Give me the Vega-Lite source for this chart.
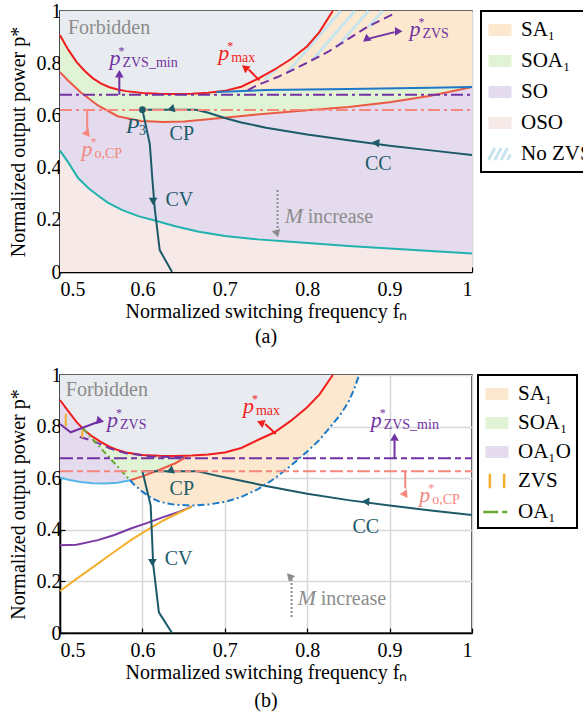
{
"$schema": "https://vega.github.io/schema/vega-lite/v6.json",
"padding": {"left": 7, "top": 0, "right": 0, "bottom": 0},
"config": {
  "view": {"stroke": "black", "strokeWidth": 1.5},
  "font": "Liberation Serif",
  "axis": {"labelFont": "Liberation Serif", "labelFontSize": 20, "labelColor": "black", "titleFont": "Liberation Serif", "titleFontSize": 20, "titleFontWeight": "normal", "titleColor": "black", "domainColor": "black", "domainWidth": 1.5, "tickColor": "black", "tickSize": -5, "tickWidth": 1.2, "gridColor": "#d6d8da", "gridWidth": 1.5, "zindex": 1, "format": "~g"},
  "axisX": {"labelPadding": 12, "titlePadding": 2},
  "axisY": {"labelPadding": 4, "titlePadding": 8},
  "legend": {"labelFont": "Liberation Serif", "labelFontSize": 21, "labelColor": "black", "strokeColor": "black", "strokeWidth": 2, "fillColor": "white", "padding": 6, "labelOffset": 8, "symbolSize": 529, "symbolType": "M-1,-0.52H1V0.52H-1Z", "orient": "right", "offset": 5},
  "title": {"font": "Liberation Serif", "fontSize": 20, "fontWeight": "normal", "color": "black"}
},
"datasets": {
  "aA": [
    {"r": "SA₁", "f": 0.5, "p": 1, "p2": 0}, {"r": "SA₁", "f": 1, "p": 1, "p2": 0},
    {"r": "F", "f": 0.5, "p": 0.907, "p2": 1}, {"r": "F", "f": 0.51, "p": 0.852, "p2": 1}, {"r": "F", "f": 0.52, "p": 0.805, "p2": 1}, {"r": "F", "f": 0.53, "p": 0.77, "p2": 1}, {"r": "F", "f": 0.54, "p": 0.742, "p2": 1}, {"r": "F", "f": 0.55, "p": 0.722, "p2": 1}, {"r": "F", "f": 0.56, "p": 0.708, "p2": 1}, {"r": "F", "f": 0.57, "p": 0.699, "p2": 1}, {"r": "F", "f": 0.58, "p": 0.693, "p2": 1}, {"r": "F", "f": 0.6, "p": 0.686, "p2": 1}, {"r": "F", "f": 0.62, "p": 0.683, "p2": 1}, {"r": "F", "f": 0.64, "p": 0.682, "p2": 1}, {"r": "F", "f": 0.66, "p": 0.683, "p2": 1}, {"r": "F", "f": 0.68, "p": 0.687, "p2": 1}, {"r": "F", "f": 0.7, "p": 0.694, "p2": 1}, {"r": "F", "f": 0.72, "p": 0.71, "p2": 1}, {"r": "F", "f": 0.74, "p": 0.74, "p2": 1}, {"r": "F", "f": 0.76, "p": 0.775, "p2": 1}, {"r": "F", "f": 0.78, "p": 0.815, "p2": 1}, {"r": "F", "f": 0.8, "p": 0.865, "p2": 1}, {"r": "F", "f": 0.815, "p": 0.92, "p2": 1}, {"r": "F", "f": 0.831, "p": 1, "p2": 1},
    {"r": "SOA₁", "f": 0.5, "p": 0.907, "p2": 0}, {"r": "SOA₁", "f": 0.51, "p": 0.852, "p2": 0}, {"r": "SOA₁", "f": 0.52, "p": 0.805, "p2": 0}, {"r": "SOA₁", "f": 0.53, "p": 0.77, "p2": 0}, {"r": "SOA₁", "f": 0.54, "p": 0.742, "p2": 0}, {"r": "SOA₁", "f": 0.55, "p": 0.722, "p2": 0}, {"r": "SOA₁", "f": 0.56, "p": 0.708, "p2": 0}, {"r": "SOA₁", "f": 0.57, "p": 0.699, "p2": 0}, {"r": "SOA₁", "f": 0.58, "p": 0.693, "p2": 0}, {"r": "SOA₁", "f": 0.6, "p": 0.686, "p2": 0}, {"r": "SOA₁", "f": 0.62, "p": 0.683, "p2": 0}, {"r": "SOA₁", "f": 0.64, "p": 0.682, "p2": 0}, {"r": "SOA₁", "f": 0.66, "p": 0.683, "p2": 0}, {"r": "SOA₁", "f": 0.68, "p": 0.687, "p2": 0}, {"r": "SOA₁", "f": 0.69, "p": 0.69, "p2": 0}, {"r": "SOA₁", "f": 0.75, "p": 0.697, "p2": 0}, {"r": "SOA₁", "f": 0.85, "p": 0.701, "p2": 0}, {"r": "SOA₁", "f": 0.95, "p": 0.706, "p2": 0}, {"r": "SOA₁", "f": 1, "p": 0.709, "p2": 0},
    {"r": "SO", "f": 0.5, "p": 0.766, "p2": 0}, {"r": "SO", "f": 0.51, "p": 0.733, "p2": 0}, {"r": "SO", "f": 0.525, "p": 0.689, "p2": 0}, {"r": "SO", "f": 0.546, "p": 0.638, "p2": 0}, {"r": "SO", "f": 0.57, "p": 0.597, "p2": 0}, {"r": "SO", "f": 0.598, "p": 0.579, "p2": 0}, {"r": "SO", "f": 0.626, "p": 0.575, "p2": 0}, {"r": "SO", "f": 0.651, "p": 0.577, "p2": 0}, {"r": "SO", "f": 0.683, "p": 0.586, "p2": 0}, {"r": "SO", "f": 0.727, "p": 0.6, "p2": 0}, {"r": "SO", "f": 0.8, "p": 0.62, "p2": 0}, {"r": "SO", "f": 0.85, "p": 0.632, "p2": 0}, {"r": "SO", "f": 0.9, "p": 0.65, "p2": 0}, {"r": "SO", "f": 0.95, "p": 0.675, "p2": 0}, {"r": "SO", "f": 1, "p": 0.709, "p2": 0},
    {"r": "OSO", "f": 0.5, "p": 0.465, "p2": 0}, {"r": "OSO", "f": 0.51, "p": 0.42, "p2": 0}, {"r": "OSO", "f": 0.522, "p": 0.36, "p2": 0}, {"r": "OSO", "f": 0.535, "p": 0.32, "p2": 0}, {"r": "OSO", "f": 0.546, "p": 0.293, "p2": 0}, {"r": "OSO", "f": 0.558, "p": 0.266, "p2": 0}, {"r": "OSO", "f": 0.575, "p": 0.238, "p2": 0}, {"r": "OSO", "f": 0.595, "p": 0.214, "p2": 0}, {"r": "OSO", "f": 0.615, "p": 0.197, "p2": 0}, {"r": "OSO", "f": 0.64, "p": 0.175, "p2": 0}, {"r": "OSO", "f": 0.667, "p": 0.155, "p2": 0}, {"r": "OSO", "f": 0.7, "p": 0.138, "p2": 0}, {"r": "OSO", "f": 0.74, "p": 0.125, "p2": 0}, {"r": "OSO", "f": 0.78, "p": 0.116, "p2": 0}, {"r": "OSO", "f": 0.85, "p": 0.1, "p2": 0}, {"r": "OSO", "f": 0.9, "p": 0.09, "p2": 0}, {"r": "OSO", "f": 0.95, "p": 0.08, "p2": 0}, {"r": "OSO", "f": 1, "p": 0.071, "p2": 0}
  ],
  "aL": [
    {"c": "max", "k": "max", "f": 0.5, "p": 0.907}, {"c": "max", "k": "max", "f": 0.51, "p": 0.852}, {"c": "max", "k": "max", "f": 0.52, "p": 0.805}, {"c": "max", "k": "max", "f": 0.53, "p": 0.77}, {"c": "max", "k": "max", "f": 0.54, "p": 0.742}, {"c": "max", "k": "max", "f": 0.55, "p": 0.722}, {"c": "max", "k": "max", "f": 0.56, "p": 0.708}, {"c": "max", "k": "max", "f": 0.57, "p": 0.699}, {"c": "max", "k": "max", "f": 0.58, "p": 0.693}, {"c": "max", "k": "max", "f": 0.6, "p": 0.686}, {"c": "max", "k": "max", "f": 0.62, "p": 0.683}, {"c": "max", "k": "max", "f": 0.64, "p": 0.682}, {"c": "max", "k": "max", "f": 0.66, "p": 0.683}, {"c": "max", "k": "max", "f": 0.68, "p": 0.687}, {"c": "max", "k": "max", "f": 0.7, "p": 0.694}, {"c": "max", "k": "max", "f": 0.72, "p": 0.71}, {"c": "max", "k": "max", "f": 0.74, "p": 0.74}, {"c": "max", "k": "max", "f": 0.76, "p": 0.775}, {"c": "max", "k": "max", "f": 0.78, "p": 0.815}, {"c": "max", "k": "max", "f": 0.8, "p": 0.865}, {"c": "max", "k": "max", "f": 0.815, "p": 0.92}, {"c": "max", "k": "max", "f": 0.831, "p": 1},
    {"c": "lred", "k": "lred", "f": 0.5, "p": 0.766}, {"c": "lred", "k": "lred", "f": 0.51, "p": 0.733}, {"c": "lred", "k": "lred", "f": 0.525, "p": 0.689}, {"c": "lred", "k": "lred", "f": 0.546, "p": 0.638}, {"c": "lred", "k": "lred", "f": 0.57, "p": 0.597}, {"c": "lred", "k": "lred", "f": 0.598, "p": 0.579}, {"c": "lred", "k": "lred", "f": 0.626, "p": 0.575}, {"c": "lred", "k": "lred", "f": 0.651, "p": 0.577}, {"c": "lred", "k": "lred", "f": 0.683, "p": 0.586}, {"c": "lred", "k": "lred", "f": 0.727, "p": 0.6}, {"c": "lred", "k": "lred", "f": 0.8, "p": 0.62}, {"c": "lred", "k": "lred", "f": 0.85, "p": 0.632}, {"c": "lred", "k": "lred", "f": 0.9, "p": 0.65}, {"c": "lred", "k": "lred", "f": 0.95, "p": 0.675}, {"c": "lred", "k": "lred", "f": 1, "p": 0.709},
    {"c": "teal", "k": "teal", "f": 0.5, "p": 0.465}, {"c": "teal", "k": "teal", "f": 0.51, "p": 0.42}, {"c": "teal", "k": "teal", "f": 0.522, "p": 0.36}, {"c": "teal", "k": "teal", "f": 0.535, "p": 0.32}, {"c": "teal", "k": "teal", "f": 0.546, "p": 0.293}, {"c": "teal", "k": "teal", "f": 0.558, "p": 0.266}, {"c": "teal", "k": "teal", "f": 0.575, "p": 0.238}, {"c": "teal", "k": "teal", "f": 0.595, "p": 0.214}, {"c": "teal", "k": "teal", "f": 0.615, "p": 0.197}, {"c": "teal", "k": "teal", "f": 0.64, "p": 0.175}, {"c": "teal", "k": "teal", "f": 0.667, "p": 0.155}, {"c": "teal", "k": "teal", "f": 0.7, "p": 0.138}, {"c": "teal", "k": "teal", "f": 0.74, "p": 0.125}, {"c": "teal", "k": "teal", "f": 0.78, "p": 0.116}, {"c": "teal", "k": "teal", "f": 0.85, "p": 0.1}, {"c": "teal", "k": "teal", "f": 0.9, "p": 0.09}, {"c": "teal", "k": "teal", "f": 0.95, "p": 0.08}, {"c": "teal", "k": "teal", "f": 1, "p": 0.071},
    {"c": "blue", "k": "blue", "f": 0.69, "p": 0.69}, {"c": "blue", "k": "blue", "f": 0.75, "p": 0.697}, {"c": "blue", "k": "blue", "f": 0.85, "p": 0.701}, {"c": "blue", "k": "blue", "f": 0.95, "p": 0.706}, {"c": "blue", "k": "blue", "f": 1, "p": 0.709},
    {"c": "zvs", "k": "zvs", "f": 0.728, "p": 0.697}, {"c": "zvs", "k": "zvs", "f": 0.74, "p": 0.7165}, {"c": "zvs", "k": "zvs", "f": 0.764, "p": 0.747}, {"c": "zvs", "k": "zvs", "f": 0.785, "p": 0.778}, {"c": "zvs", "k": "zvs", "f": 0.825, "p": 0.843}, {"c": "zvs", "k": "zvs", "f": 0.873, "p": 0.939}, {"c": "zvs", "k": "zvs", "f": 0.907, "p": 0.992},
    {"c": "CC", "k": "traj", "f": 0.665, "p": 0.622}, {"c": "CC", "k": "traj", "f": 0.68, "p": 0.61}, {"c": "CC", "k": "traj", "f": 0.7, "p": 0.59}, {"c": "CC", "k": "traj", "f": 0.72, "p": 0.573}, {"c": "CC", "k": "traj", "f": 0.75, "p": 0.553}, {"c": "CC", "k": "traj", "f": 0.8, "p": 0.527}, {"c": "CC", "k": "traj", "f": 0.85, "p": 0.505}, {"c": "CC", "k": "traj", "f": 0.9, "p": 0.484}, {"c": "CC", "k": "traj", "f": 0.95, "p": 0.466}, {"c": "CC", "k": "traj", "f": 1, "p": 0.448},
    {"c": "CP", "k": "traj", "f": 0.6, "p": 0.622}, {"c": "CP", "k": "traj", "f": 0.665, "p": 0.622},
    {"c": "CV", "k": "traj", "f": 0.6, "p": 0.622}, {"c": "CV", "k": "traj", "f": 0.609, "p": 0.49}, {"c": "CV", "k": "traj", "f": 0.612, "p": 0.36}, {"c": "CV", "k": "traj", "f": 0.615, "p": 0.243}, {"c": "CV", "k": "traj", "f": 0.621, "p": 0.084}, {"c": "CV", "k": "traj", "f": 0.636, "p": 0}
  ],
  "aR": [
    {"c": "hz_min", "k": "zvs", "f": 0.5, "p": 0.679, "f2": 1, "p2": 0.679},
    {"c": "hz_ocp", "k": "ocp", "f": 0.5, "p": 0.621, "f2": 1, "p2": 0.621},
    {"c": "ar_min", "k": "zvs", "f": 0.572, "p": 0.679, "f2": 0.572, "p2": 0.755},
    {"c": "ar_ocp", "k": "ocp", "f": 0.533, "p": 0.621, "f2": 0.533, "p2": 0.545},
    {"c": "ar_max", "k": "max", "f": 0.742, "p": 0.734, "f2": 0.729, "p2": 0.776},
    {"c": "ar_zvs", "k": "zvs", "f": 0.876, "p": 0.895, "f2": 0.906, "p2": 0.919},
    {"c": "ar_m", "k": "gray", "f": 0.764, "p": 0.314, "f2": 0.764, "p2": 0.16},
    {"c": "st0", "k": "hatch", "f": 0.7485, "p": 0.738, "f2": 0.763, "p2": 0.779},
    {"c": "st1", "k": "hatch", "f": 0.7764, "p": 0.766, "f2": 0.8406, "p2": 1},
    {"c": "st2", "k": "hatch", "f": 0.8067, "p": 0.813, "f2": 0.8576, "p2": 1},
    {"c": "st3", "k": "hatch", "f": 0.8364, "p": 0.862, "f2": 0.8745, "p2": 1},
    {"c": "st4", "k": "hatch", "f": 0.8745, "p": 0.939, "f2": 0.8915, "p2": 1}
  ],
  "aH": [
    {"c": "ar_min", "k": "zvs", "f": 0.572, "p": 0.76},
    {"c": "ar_ocp", "k": "ocp", "f": 0.533, "p": 0.537},
    {"c": "ar_m", "k": "gray", "f": 0.764, "p": 0.155},
    {"c": "ar_max", "k": "max", "f": 0.727, "p": 0.782},
    {"c": "ar_zvs", "k": "zvs", "f": 0.911, "p": 0.922},
    {"c": "ar_zvs2", "k": "zvs", "f": 0.874, "p": 0.892},
    {"c": "CP", "k": "traj", "f": 0.637, "p": 0.622},
    {"c": "CC", "k": "traj", "f": 0.885, "p": 0.49},
    {"c": "CV", "k": "traj", "f": 0.613, "p": 0.27}
  ],
  "aT": [
    {"t": "p", "k": "zvs", "f": 0.56, "p": 0.792, "st": "it", "sub": "ZVS_min"},
    {"t": "p", "k": "max", "f": 0.692, "p": 0.813, "st": "it", "sub": "max"},
    {"t": "p", "k": "zvs", "f": 0.924, "p": 0.905, "st": "it", "sub": "ZVS"},
    {"t": "p", "k": "ocp", "f": 0.526, "p": 0.446, "st": "it", "sub": "o,CP"},
    {"t": "P", "k": "traj", "f": 0.58, "p": 0.534, "st": "it", "sub": "3"},
    {"t": "M", "k": "gray", "f": 0.7727, "p": 0.188, "st": "it"},
    {"t": "Forbidden", "k": "gray", "f": 0.5097, "p": 0.913, "st": "pl"},
    {"t": "CP", "k": "traj", "f": 0.633, "p": 0.505, "st": "pl"},
    {"t": "CV", "k": "traj", "f": 0.628, "p": 0.252, "st": "pl"},
    {"t": "CC", "k": "traj", "f": 0.87, "p": 0.39, "st": "pl"},
    {"t": "increase", "k": "gray", "f": 0.8006, "p": 0.188, "st": "pl"}
  ],
  "bA": [
    {"r": "F", "f": 0.5, "p": 0.903, "p2": 1}, {"r": "F", "f": 0.51, "p": 0.86, "p2": 1}, {"r": "F", "f": 0.52, "p": 0.818, "p2": 1}, {"r": "F", "f": 0.53, "p": 0.785, "p2": 1}, {"r": "F", "f": 0.54, "p": 0.76, "p2": 1}, {"r": "F", "f": 0.55, "p": 0.74, "p2": 1}, {"r": "F", "f": 0.56, "p": 0.722, "p2": 1}, {"r": "F", "f": 0.57, "p": 0.709, "p2": 1}, {"r": "F", "f": 0.58, "p": 0.7, "p2": 1}, {"r": "F", "f": 0.6, "p": 0.69, "p2": 1}, {"r": "F", "f": 0.62, "p": 0.687, "p2": 1}, {"r": "F", "f": 0.64, "p": 0.686, "p2": 1}, {"r": "F", "f": 0.66, "p": 0.688, "p2": 1}, {"r": "F", "f": 0.68, "p": 0.692, "p2": 1}, {"r": "F", "f": 0.7, "p": 0.7, "p2": 1}, {"r": "F", "f": 0.72, "p": 0.717, "p2": 1}, {"r": "F", "f": 0.74, "p": 0.748, "p2": 1}, {"r": "F", "f": 0.76, "p": 0.777, "p2": 1}, {"r": "F", "f": 0.78, "p": 0.822, "p2": 1}, {"r": "F", "f": 0.8, "p": 0.875, "p2": 1}, {"r": "F", "f": 0.815, "p": 0.925, "p2": 1}, {"r": "F", "f": 0.831, "p": 1, "p2": 1},
    {"r": "SA₁", "f": 0.585, "p": 0.698, "p2": 0.592}, {"r": "SA₁", "f": 0.59, "p": 0.696, "p2": 0.575}, {"r": "SA₁", "f": 0.6, "p": 0.69, "p2": 0.548}, {"r": "SA₁", "f": 0.61, "p": 0.688, "p2": 0.525}, {"r": "SA₁", "f": 0.62, "p": 0.687, "p2": 0.51}, {"r": "SA₁", "f": 0.63, "p": 0.686, "p2": 0.502}, {"r": "SA₁", "f": 0.64, "p": 0.686, "p2": 0.497}, {"r": "SA₁", "f": 0.66, "p": 0.688, "p2": 0.494}, {"r": "SA₁", "f": 0.68, "p": 0.692, "p2": 0.498}, {"r": "SA₁", "f": 0.7, "p": 0.7, "p2": 0.508}, {"r": "SA₁", "f": 0.72, "p": 0.717, "p2": 0.527}, {"r": "SA₁", "f": 0.74, "p": 0.748, "p2": 0.557}, {"r": "SA₁", "f": 0.76, "p": 0.777, "p2": 0.598}, {"r": "SA₁", "f": 0.78, "p": 0.822, "p2": 0.648}, {"r": "SA₁", "f": 0.8, "p": 0.875, "p2": 0.703}, {"r": "SA₁", "f": 0.815, "p": 0.925, "p2": 0.749}, {"r": "SA₁", "f": 0.831, "p": 1, "p2": 0.81}, {"r": "SA₁", "f": 0.84, "p": 1, "p2": 0.845}, {"r": "SA₁", "f": 0.85, "p": 1, "p2": 0.895}, {"r": "SA₁", "f": 0.857, "p": 1, "p2": 0.945}, {"r": "SA₁", "f": 0.863, "p": 1, "p2": 1},
    {"r": "SOA₁", "f": 0.528, "p": 0.792, "p2": 0.792}, {"r": "SOA₁", "f": 0.54, "p": 0.76, "p2": 0.75}, {"r": "SOA₁", "f": 0.55, "p": 0.74, "p2": 0.715}, {"r": "SOA₁", "f": 0.56, "p": 0.722, "p2": 0.68}, {"r": "SOA₁", "f": 0.57, "p": 0.709, "p2": 0.645}, {"r": "SOA₁", "f": 0.585, "p": 0.698, "p2": 0.592}, {"r": "SOA₁", "f": 0.6, "p": 0.69, "p2": 0.607}, {"r": "SOA₁", "f": 0.62, "p": 0.687, "p2": 0.632}, {"r": "SOA₁", "f": 0.64, "p": 0.686, "p2": 0.658}, {"r": "SOA₁", "f": 0.655, "p": 0.687, "p2": 0.687},
    {"r": "OA₁O", "f": 0.5, "p": 0.903, "p2": 0.603}, {"r": "OA₁O", "f": 0.51, "p": 0.86, "p2": 0.594}, {"r": "OA₁O", "f": 0.52, "p": 0.818, "p2": 0.587}, {"r": "OA₁O", "f": 0.528, "p": 0.792, "p2": 0.583}, {"r": "OA₁O", "f": 0.54, "p": 0.75, "p2": 0.58}, {"r": "OA₁O", "f": 0.55, "p": 0.715, "p2": 0.579}, {"r": "OA₁O", "f": 0.56, "p": 0.68, "p2": 0.58}, {"r": "OA₁O", "f": 0.57, "p": 0.645, "p2": 0.583}, {"r": "OA₁O", "f": 0.585, "p": 0.592, "p2": 0.592}
  ],
  "bL": [
    {"c": "max", "k": "max", "f": 0.5, "p": 0.903}, {"c": "max", "k": "max", "f": 0.51, "p": 0.86}, {"c": "max", "k": "max", "f": 0.52, "p": 0.818}, {"c": "max", "k": "max", "f": 0.53, "p": 0.785}, {"c": "max", "k": "max", "f": 0.54, "p": 0.76}, {"c": "max", "k": "max", "f": 0.55, "p": 0.74}, {"c": "max", "k": "max", "f": 0.56, "p": 0.722}, {"c": "max", "k": "max", "f": 0.57, "p": 0.709}, {"c": "max", "k": "max", "f": 0.58, "p": 0.7}, {"c": "max", "k": "max", "f": 0.6, "p": 0.69}, {"c": "max", "k": "max", "f": 0.62, "p": 0.687}, {"c": "max", "k": "max", "f": 0.64, "p": 0.686}, {"c": "max", "k": "max", "f": 0.66, "p": 0.688}, {"c": "max", "k": "max", "f": 0.68, "p": 0.692}, {"c": "max", "k": "max", "f": 0.7, "p": 0.7}, {"c": "max", "k": "max", "f": 0.72, "p": 0.717}, {"c": "max", "k": "max", "f": 0.74, "p": 0.748}, {"c": "max", "k": "max", "f": 0.76, "p": 0.777}, {"c": "max", "k": "max", "f": 0.78, "p": 0.822}, {"c": "max", "k": "max", "f": 0.8, "p": 0.875}, {"c": "max", "k": "max", "f": 0.815, "p": 0.925}, {"c": "max", "k": "max", "f": 0.831, "p": 1},
    {"c": "lred", "k": "lred", "f": 0.585, "p": 0.592}, {"c": "lred", "k": "lred", "f": 0.6, "p": 0.607}, {"c": "lred", "k": "lred", "f": 0.62, "p": 0.632}, {"c": "lred", "k": "lred", "f": 0.64, "p": 0.658}, {"c": "lred", "k": "lred", "f": 0.655, "p": 0.686},
    {"c": "lblue", "k": "lblue", "f": 0.5, "p": 0.603}, {"c": "lblue", "k": "lblue", "f": 0.51, "p": 0.594}, {"c": "lblue", "k": "lblue", "f": 0.525, "p": 0.585}, {"c": "lblue", "k": "lblue", "f": 0.54, "p": 0.58}, {"c": "lblue", "k": "lblue", "f": 0.555, "p": 0.579}, {"c": "lblue", "k": "lblue", "f": 0.57, "p": 0.582}, {"c": "lblue", "k": "lblue", "f": 0.585, "p": 0.592},
    {"c": "oa1", "k": "green", "f": 0.528, "p": 0.792}, {"c": "oa1", "k": "green", "f": 0.585, "p": 0.592},
    {"c": "bdd", "k": "bdd", "f": 0.585, "p": 0.592}, {"c": "bdd", "k": "bdd", "f": 0.59, "p": 0.575}, {"c": "bdd", "k": "bdd", "f": 0.6, "p": 0.548}, {"c": "bdd", "k": "bdd", "f": 0.61, "p": 0.525}, {"c": "bdd", "k": "bdd", "f": 0.62, "p": 0.51}, {"c": "bdd", "k": "bdd", "f": 0.63, "p": 0.502}, {"c": "bdd", "k": "bdd", "f": 0.64, "p": 0.497}, {"c": "bdd", "k": "bdd", "f": 0.66, "p": 0.494}, {"c": "bdd", "k": "bdd", "f": 0.68, "p": 0.498}, {"c": "bdd", "k": "bdd", "f": 0.7, "p": 0.508}, {"c": "bdd", "k": "bdd", "f": 0.72, "p": 0.527}, {"c": "bdd", "k": "bdd", "f": 0.74, "p": 0.557}, {"c": "bdd", "k": "bdd", "f": 0.76, "p": 0.598}, {"c": "bdd", "k": "bdd", "f": 0.78, "p": 0.648}, {"c": "bdd", "k": "bdd", "f": 0.8, "p": 0.703}, {"c": "bdd", "k": "bdd", "f": 0.815, "p": 0.749}, {"c": "bdd", "k": "bdd", "f": 0.831, "p": 0.81}, {"c": "bdd", "k": "bdd", "f": 0.84, "p": 0.845}, {"c": "bdd", "k": "bdd", "f": 0.85, "p": 0.895}, {"c": "bdd", "k": "bdd", "f": 0.857, "p": 0.945}, {"c": "bdd", "k": "bdd", "f": 0.863, "p": 1},
    {"c": "purp", "k": "purp", "f": 0.5, "p": 0.34}, {"c": "purp", "k": "purp", "f": 0.52, "p": 0.342}, {"c": "purp", "k": "purp", "f": 0.546, "p": 0.36}, {"c": "purp", "k": "purp", "f": 0.566, "p": 0.38}, {"c": "purp", "k": "purp", "f": 0.586, "p": 0.405}, {"c": "purp", "k": "purp", "f": 0.606, "p": 0.427}, {"c": "purp", "k": "purp", "f": 0.626, "p": 0.45}, {"c": "purp", "k": "purp", "f": 0.645, "p": 0.47}, {"c": "purp", "k": "purp", "f": 0.66, "p": 0.49},
    {"c": "orng", "k": "orng", "f": 0.5, "p": 0.163}, {"c": "orng", "k": "orng", "f": 0.52, "p": 0.21}, {"c": "orng", "k": "orng", "f": 0.546, "p": 0.269}, {"c": "orng", "k": "orng", "f": 0.566, "p": 0.315}, {"c": "orng", "k": "orng", "f": 0.586, "p": 0.36}, {"c": "orng", "k": "orng", "f": 0.606, "p": 0.4}, {"c": "orng", "k": "orng", "f": 0.626, "p": 0.437}, {"c": "orng", "k": "orng", "f": 0.645, "p": 0.467}, {"c": "orng", "k": "orng", "f": 0.66, "p": 0.49},
    {"c": "zvs", "k": "zvs", "f": 0.524, "p": 0.76}, {"c": "zvs", "k": "zvs", "f": 0.54, "p": 0.745}, {"c": "zvs", "k": "zvs", "f": 0.56, "p": 0.716}, {"c": "zvs", "k": "zvs", "f": 0.58, "p": 0.697}, {"c": "zvs", "k": "zvs", "f": 0.61, "p": 0.684}, {"c": "zvs", "k": "zvs", "f": 0.65, "p": 0.681},
    {"c": "zvsp", "k": "zvs", "f": 0.5, "p": 0.81}, {"c": "zvsp", "k": "zvs", "f": 0.513, "p": 0.778}, {"c": "zvsp", "k": "zvs", "f": 0.546, "p": 0.818},
    {"c": "CC", "k": "traj", "f": 0.667, "p": 0.627}, {"c": "CC", "k": "traj", "f": 0.69, "p": 0.61}, {"c": "CC", "k": "traj", "f": 0.72, "p": 0.59}, {"c": "CC", "k": "traj", "f": 0.75, "p": 0.57}, {"c": "CC", "k": "traj", "f": 0.8, "p": 0.54}, {"c": "CC", "k": "traj", "f": 0.85, "p": 0.515}, {"c": "CC", "k": "traj", "f": 0.9, "p": 0.494}, {"c": "CC", "k": "traj", "f": 0.95, "p": 0.475}, {"c": "CC", "k": "traj", "f": 1, "p": 0.457},
    {"c": "CP", "k": "traj", "f": 0.6, "p": 0.627}, {"c": "CP", "k": "traj", "f": 0.667, "p": 0.627},
    {"c": "CV", "k": "traj", "f": 0.6, "p": 0.627}, {"c": "CV", "k": "traj", "f": 0.61, "p": 0.495}, {"c": "CV", "k": "traj", "f": 0.612, "p": 0.35}, {"c": "CV", "k": "traj", "f": 0.613, "p": 0.269}, {"c": "CV", "k": "traj", "f": 0.62, "p": 0.08}, {"c": "CV", "k": "traj", "f": 0.636, "p": 0}
  ],
  "bR": [
    {"c": "hz_min", "k": "zvs", "f": 0.5, "p": 0.677, "f2": 1, "p2": 0.677},
    {"c": "hz_ocp", "k": "ocp", "f": 0.5, "p": 0.627, "f2": 1, "p2": 0.627},
    {"c": "ar_min", "k": "zvs", "f": 0.906, "p": 0.677, "f2": 0.906, "p2": 0.745},
    {"c": "ar_ocp", "k": "ocp", "f": 0.919, "p": 0.627, "f2": 0.919, "p2": 0.56},
    {"c": "ar_max", "k": "max", "f": 0.762, "p": 0.771, "f2": 0.749, "p2": 0.81},
    {"c": "ar_mu", "k": "gray", "f": 0.781, "p": 0.062, "f2": 0.781, "p2": 0.21},
    {"c": "zb1", "k": "orng", "f": 0.507, "p": 0.8, "f2": 0.507, "p2": 0.85},
    {"c": "zb2", "k": "orng", "f": 0.527, "p": 0.756, "f2": 0.527, "p2": 0.787}
  ],
  "bH": [
    {"c": "ar_min", "k": "zvs", "f": 0.906, "p": 0.76},
    {"c": "ar_ocp", "k": "ocp", "f": 0.919, "p": 0.544},
    {"c": "ar_max", "k": "max", "f": 0.746, "p": 0.817},
    {"c": "ar_mu", "k": "gray", "f": 0.781, "p": 0.218},
    {"c": "ar_zvs", "k": "zvs", "f": 0.549, "p": 0.822},
    {"c": "CP", "k": "traj", "f": 0.636, "p": 0.627},
    {"c": "CC", "k": "traj", "f": 0.873, "p": 0.505},
    {"c": "CV", "k": "traj", "f": 0.6122, "p": 0.272}
  ],
  "bT": [
    {"t": "p", "k": "max", "f": 0.722, "p": 0.853, "st": "it", "sub": "max"},
    {"t": "p", "k": "zvs", "f": 0.557, "p": 0.8, "st": "it", "sub": "ZVS"},
    {"t": "p", "k": "zvs", "f": 0.877, "p": 0.8, "st": "it", "sub": "ZVS_min"},
    {"t": "p", "k": "ocp", "f": 0.936, "p": 0.509, "st": "it", "sub": "o,CP"},
    {"t": "M", "k": "gray", "f": 0.7885, "p": 0.109, "st": "it"},
    {"t": "Forbidden", "k": "gray", "f": 0.507, "p": 0.919, "st": "pl"},
    {"t": "CP", "k": "traj", "f": 0.633, "p": 0.535, "st": "pl"},
    {"t": "CV", "k": "traj", "f": 0.627, "p": 0.264, "st": "pl"},
    {"t": "CC", "k": "traj", "f": 0.855, "p": 0.387, "st": "pl"},
    {"t": "increase", "k": "gray", "f": 0.8164, "p": 0.109, "st": "pl"}
  ]
},
"spacing": 16,
"resolve": {"scale": {"x": "independent", "y": "independent", "fill": "independent", "color": "independent", "angle": "independent"}},
"vconcat": [
  {
    "width": 412, "height": 261,
    "title": {"text": "(a)", "orient": "bottom", "frame": "group", "offset": 6},
    "encoding": {
      "x": {"field": "f", "type": "quantitative", "scale": {"domain": [0.5, 1], "nice": false, "zero": false}, "axis": {"values": [0.5, 0.6, 0.7, 0.8, 0.9, 1], "title": "Normalized switching frequency fₙ"}},
      "y": {"field": "p", "type": "quantitative", "scale": {"domain": [0, 1], "nice": false, "zero": false}, "axis": {"values": [0, 0.2, 0.4, 0.6, 0.8, 1], "title": "Normalized output  power p*"}}
    },
    "layer": [
      {"data": {"name": "aA"}, "transform": [{"filter": "datum.r === 'SA₁'"}], "mark": {"type": "area", "opacity": 1},
       "encoding": {"y2": {"field": "p2"}, "fill": {"field": "r", "type": "nominal", "scale": {"domain": ["SA₁", "SOA₁", "SO", "OSO", "No ZVS"], "range": ["#fbe8cf", "#e1f3d5", "#e4dcee", "#f8e9e9", "transparent"]},
         "legend": {"title": null, "orient": "right", "offset": 5, "padding": 6, "rowPadding": 6, "symbolType": "M-1,-0.52H1V0.52H-1Z", "symbolSize": 529, "symbolStrokeWidth": 0, "labelFont": "Liberation Serif", "labelFontSize": 21, "labelOffset": 8, "strokeColor": "black", "fillColor": "white",
           "encoding": {"symbols": {
             "shape": {"value": {"expr": "datum.value === 'No ZVS' ? 'M-1,0.52L-0.45,-0.52M-0.45,0.52L0.1,-0.52M0.1,0.52L0.65,-0.52M0.65,0.52L0.9,0.04' : 'M-1,-0.52H1V0.52H-1Z'"}},
             "stroke": {"value": {"expr": "datum.value === 'No ZVS' ? '#c8e5ee' : 'transparent'"}},
             "strokeWidth": {"value": 3}}}}}}},
      {"data": {"name": "aA"}, "transform": [{"filter": "datum.r === 'F'"}], "mark": {"type": "area", "opacity": 1, "fill": "#e8ebef"}, "encoding": {"y2": {"field": "p2"}}},
      {"data": {"name": "aA"}, "transform": [{"filter": "datum.r === 'SOA₁'"}], "mark": {"type": "area", "opacity": 1},
       "encoding": {"y2": {"field": "p2"}, "fill": {"field": "r", "type": "nominal", "scale": {"domain": ["SA₁", "SOA₁", "SO", "OSO", "No ZVS"], "range": ["#fbe8cf", "#e1f3d5", "#e4dcee", "#f8e9e9", "transparent"]}}}},
      {"data": {"name": "aA"}, "transform": [{"filter": "datum.r === 'SO'"}], "mark": {"type": "area", "opacity": 1},
       "encoding": {"y2": {"field": "p2"}, "fill": {"field": "r", "type": "nominal", "scale": {"domain": ["SA₁", "SOA₁", "SO", "OSO", "No ZVS"], "range": ["#fbe8cf", "#e1f3d5", "#e4dcee", "#f8e9e9", "transparent"]}}}},
      {"data": {"name": "aA"}, "transform": [{"filter": "datum.r === 'OSO'"}], "mark": {"type": "area", "opacity": 1},
       "encoding": {"y2": {"field": "p2"}, "fill": {"field": "r", "type": "nominal", "scale": {"domain": ["SA₁", "SOA₁", "SO", "OSO", "No ZVS"], "range": ["#fbe8cf", "#e1f3d5", "#e4dcee", "#f8e9e9", "transparent"]}}}},
      {"data": {"name": "aR"}, "transform": [{"filter": "datum.k === 'hatch'"}], "mark": {"type": "rule", "strokeWidth": 3},
       "encoding": {"x2": {"field": "f2"}, "y2": {"field": "p2"}, "color": {"field": "k", "type": "nominal", "scale": {"domain": ["max", "lred", "teal", "blue", "zvs", "ocp", "traj", "gray", "hatch", "lblue", "green", "orng", "bdd", "purp"], "range": ["#f01e1e", "#ea5a44", "#22b2ad", "#1f78c8", "#7332a3", "#f5877d", "#1d5a69", "#8c8c8c", "#c8e5ee", "#56b6ea", "#6aa832", "#f2b02e", "#1a7ac8", "#7b39a5"]}, "legend": null}}},
      {"data": {"name": "aL"}, "transform": [{"filter": "datum.c !== 'zvs'"}], "mark": {"type": "line", "strokeWidth": 2},
       "encoding": {"detail": {"field": "c"}, "color": {"field": "k", "type": "nominal", "scale": {"domain": ["max", "lred", "teal", "blue", "zvs", "ocp", "traj", "gray", "hatch", "lblue", "green", "orng", "bdd", "purp"], "range": ["#f01e1e", "#ea5a44", "#22b2ad", "#1f78c8", "#7332a3", "#f5877d", "#1d5a69", "#8c8c8c", "#c8e5ee", "#56b6ea", "#6aa832", "#f2b02e", "#1a7ac8", "#7b39a5"]}, "legend": null}}},
      {"data": {"name": "aL"}, "transform": [{"filter": "datum.c === 'zvs'"}], "mark": {"type": "line", "strokeWidth": 2, "strokeDash": [9, 5]},
       "encoding": {"detail": {"field": "c"}, "color": {"field": "k", "type": "nominal", "scale": {"domain": ["max", "lred", "teal", "blue", "zvs", "ocp", "traj", "gray", "hatch", "lblue", "green", "orng", "bdd", "purp"], "range": ["#f01e1e", "#ea5a44", "#22b2ad", "#1f78c8", "#7332a3", "#f5877d", "#1d5a69", "#8c8c8c", "#c8e5ee", "#56b6ea", "#6aa832", "#f2b02e", "#1a7ac8", "#7b39a5"]}, "legend": null}}},
      {"data": {"name": "aR"}, "transform": [{"filter": "indexof(datum.c, 'hz') === 0"}], "mark": {"type": "rule", "strokeWidth": 2, "strokeDash": [12, 4, 3, 4]},
       "encoding": {"x2": {"field": "f2"}, "y2": {"field": "p2"}, "color": {"field": "k", "type": "nominal", "scale": {"domain": ["max", "lred", "teal", "blue", "zvs", "ocp", "traj", "gray", "hatch", "lblue", "green", "orng", "bdd", "purp"], "range": ["#f01e1e", "#ea5a44", "#22b2ad", "#1f78c8", "#7332a3", "#f5877d", "#1d5a69", "#8c8c8c", "#c8e5ee", "#56b6ea", "#6aa832", "#f2b02e", "#1a7ac8", "#7b39a5"]}, "legend": null}}},
      {"data": {"name": "aR"}, "transform": [{"filter": "indexof(datum.c, 'ar') === 0 && datum.c !== 'ar_m'"}], "mark": {"type": "rule", "strokeWidth": 2},
       "encoding": {"x2": {"field": "f2"}, "y2": {"field": "p2"}, "color": {"field": "k", "type": "nominal", "scale": {"domain": ["max", "lred", "teal", "blue", "zvs", "ocp", "traj", "gray", "hatch", "lblue", "green", "orng", "bdd", "purp"], "range": ["#f01e1e", "#ea5a44", "#22b2ad", "#1f78c8", "#7332a3", "#f5877d", "#1d5a69", "#8c8c8c", "#c8e5ee", "#56b6ea", "#6aa832", "#f2b02e", "#1a7ac8", "#7b39a5"]}, "legend": null}}},
      {"data": {"name": "aR"}, "transform": [{"filter": "datum.c === 'ar_m'"}], "mark": {"type": "rule", "strokeWidth": 2, "strokeDash": [2, 2]},
       "encoding": {"x2": {"field": "f2"}, "y2": {"field": "p2"}, "color": {"field": "k", "type": "nominal", "scale": {"domain": ["max", "lred", "teal", "blue", "zvs", "ocp", "traj", "gray", "hatch", "lblue", "green", "orng", "bdd", "purp"], "range": ["#f01e1e", "#ea5a44", "#22b2ad", "#1f78c8", "#7332a3", "#f5877d", "#1d5a69", "#8c8c8c", "#c8e5ee", "#56b6ea", "#6aa832", "#f2b02e", "#1a7ac8", "#7b39a5"]}, "legend": null}}},
      {"data": {"name": "aH"}, "mark": {"type": "point", "shape": "triangle-up", "filled": true, "size": 75, "opacity": 1},
       "encoding": {"angle": {"field": "c", "type": "nominal", "scale": {"domain": ["ar_min", "ar_ocp", "ar_m", "ar_max", "ar_zvs", "ar_zvs2", "CP", "CC", "CV"], "range": [0, 180, 180, 315, 75, 255, 270, 277, 176]}, "legend": null},
         "color": {"field": "k", "type": "nominal", "scale": {"domain": ["max", "lred", "teal", "blue", "zvs", "ocp", "traj", "gray", "hatch", "lblue", "green", "orng", "bdd", "purp"], "range": ["#f01e1e", "#ea5a44", "#22b2ad", "#1f78c8", "#7332a3", "#f5877d", "#1d5a69", "#8c8c8c", "#c8e5ee", "#56b6ea", "#6aa832", "#f2b02e", "#1a7ac8", "#7b39a5"]}, "legend": null}}},
      {"data": {"name": "aL"}, "transform": [{"filter": "datum.c === 'CP' && datum.f === 0.6"}], "mark": {"type": "circle", "size": 45, "opacity": 1, "color": "#1d5a69"}},
      {"data": {"name": "aT"}, "transform": [{"filter": "datum.st === 'it'"}], "mark": {"type": "text", "align": "left", "baseline": "alphabetic", "font": "Liberation Serif", "fontSize": 22, "fontStyle": "italic"},
       "encoding": {"text": {"field": "t"}, "color": {"field": "k", "type": "nominal", "scale": {"domain": ["max", "lred", "teal", "blue", "zvs", "ocp", "traj", "gray", "hatch", "lblue", "green", "orng", "bdd", "purp"], "range": ["#f01e1e", "#ea5a44", "#22b2ad", "#1f78c8", "#7332a3", "#f5877d", "#1d5a69", "#8c8c8c", "#c8e5ee", "#56b6ea", "#6aa832", "#f2b02e", "#1a7ac8", "#7b39a5"]}, "legend": null}}},
      {"data": {"name": "aT"}, "transform": [{"filter": "datum.t === 'p'"}], "mark": {"type": "text", "align": "left", "baseline": "alphabetic", "font": "Liberation Serif", "fontSize": 12, "dx": 9, "dy": -10, "text": "*"},
       "encoding": {"color": {"field": "k", "type": "nominal", "scale": {"domain": ["max", "lred", "teal", "blue", "zvs", "ocp", "traj", "gray", "hatch", "lblue", "green", "orng", "bdd", "purp"], "range": ["#f01e1e", "#ea5a44", "#22b2ad", "#1f78c8", "#7332a3", "#f5877d", "#1d5a69", "#8c8c8c", "#c8e5ee", "#56b6ea", "#6aa832", "#f2b02e", "#1a7ac8", "#7b39a5"]}, "legend": null}}},
      {"data": {"name": "aT"}, "transform": [{"filter": "isValid(datum.sub)"}], "mark": {"type": "text", "align": "left", "baseline": "alphabetic", "font": "Liberation Serif", "fontSize": 14, "dx": 13, "dy": 2},
       "encoding": {"text": {"field": "sub"}, "color": {"field": "k", "type": "nominal", "scale": {"domain": ["max", "lred", "teal", "blue", "zvs", "ocp", "traj", "gray", "hatch", "lblue", "green", "orng", "bdd", "purp"], "range": ["#f01e1e", "#ea5a44", "#22b2ad", "#1f78c8", "#7332a3", "#f5877d", "#1d5a69", "#8c8c8c", "#c8e5ee", "#56b6ea", "#6aa832", "#f2b02e", "#1a7ac8", "#7b39a5"]}, "legend": null}}},
      {"data": {"name": "aT"}, "transform": [{"filter": "datum.st === 'pl'"}], "mark": {"type": "text", "align": "left", "baseline": "alphabetic", "font": "Liberation Serif", "fontSize": 20},
       "encoding": {"text": {"field": "t"}, "color": {"field": "k", "type": "nominal", "scale": {"domain": ["max", "lred", "teal", "blue", "zvs", "ocp", "traj", "gray", "hatch", "lblue", "green", "orng", "bdd", "purp"], "range": ["#f01e1e", "#ea5a44", "#22b2ad", "#1f78c8", "#7332a3", "#f5877d", "#1d5a69", "#8c8c8c", "#c8e5ee", "#56b6ea", "#6aa832", "#f2b02e", "#1a7ac8", "#7b39a5"]}, "legend": null}}}
    ]
  },
  {
    "width": 412, "height": 258,
    "title": {"text": "(b)", "orient": "bottom", "frame": "group", "offset": 9},
    "encoding": {
      "x": {"field": "f", "type": "quantitative", "scale": {"domain": [0.5, 1], "nice": false, "zero": false}, "axis": {"values": [0.5, 0.6, 0.7, 0.8, 0.9, 1], "title": "Normalized switching frequency fₙ"}},
      "y": {"field": "p", "type": "quantitative", "scale": {"domain": [0, 1], "nice": false, "zero": false}, "axis": {"values": [0, 0.2, 0.4, 0.6, 0.8, 1], "title": "Normalized output  power p*"}}
    },
    "layer": [
      {"data": {"name": "bA"}, "transform": [{"filter": "datum.r === 'F'"}], "mark": {"type": "area", "opacity": 1, "fill": "#e8ebef"}, "encoding": {"y2": {"field": "p2"}}},
      {"data": {"name": "bA"}, "transform": [{"filter": "datum.r === 'SA₁'"}], "mark": {"type": "area", "opacity": 1},
       "encoding": {"y2": {"field": "p2"}, "fill": {"field": "r", "type": "nominal", "scale": {"domain": ["SA₁", "SOA₁", "OA₁O", "ZVS", "OA₁"], "range": ["#fbe8cf", "#e1f3d5", "#e4dcee", "transparent", "transparent"]},
         "legend": {"title": null, "orient": "right", "offset": 2, "padding": 6, "rowPadding": 5, "symbolType": "M-1,-0.52H1V0.52H-1Z", "symbolSize": 529, "symbolStrokeWidth": 0, "labelFont": "Liberation Serif", "labelFontSize": 21, "labelOffset": 8, "strokeColor": "black", "fillColor": "white",
           "encoding": {"symbols": {
             "shape": {"value": {"expr": "datum.value === 'ZVS' ? 'M-0.62,-0.62V0.62M0.62,-0.62V0.62' : datum.value === 'OA₁' ? 'M-1.2,0H1.2' : 'M-1,-0.52H1V0.52H-1Z'"}},
             "stroke": {"value": {"expr": "datum.value === 'ZVS' ? '#f2b02e' : datum.value === 'OA₁' ? '#6aa832' : 'transparent'"}},
             "strokeDash": {"value": {"expr": "datum.value === 'OA₁' ? [15, 4, 5, 40] : [1, 0]"}},
             "strokeWidth": {"value": 2.5}}}}}}},
      {"data": {"name": "bA"}, "transform": [{"filter": "datum.r === 'SOA₁'"}], "mark": {"type": "area", "opacity": 1},
       "encoding": {"y2": {"field": "p2"}, "fill": {"field": "r", "type": "nominal", "scale": {"domain": ["SA₁", "SOA₁", "OA₁O", "ZVS", "OA₁"], "range": ["#fbe8cf", "#e1f3d5", "#e4dcee", "transparent", "transparent"]}}}},
      {"data": {"name": "bA"}, "transform": [{"filter": "datum.r === 'OA₁O'"}], "mark": {"type": "area", "opacity": 1},
       "encoding": {"y2": {"field": "p2"}, "fill": {"field": "r", "type": "nominal", "scale": {"domain": ["SA₁", "SOA₁", "OA₁O", "ZVS", "OA₁"], "range": ["#fbe8cf", "#e1f3d5", "#e4dcee", "transparent", "transparent"]}}}},
      {"data": {"name": "bL"}, "transform": [{"filter": "datum.c !== 'zvs' && datum.c !== 'oa1' && datum.c !== 'bdd'"}], "mark": {"type": "line", "strokeWidth": 2},
       "encoding": {"detail": {"field": "c"}, "color": {"field": "k", "type": "nominal", "scale": {"domain": ["max", "lred", "teal", "blue", "zvs", "ocp", "traj", "gray", "hatch", "lblue", "green", "orng", "bdd", "purp"], "range": ["#f01e1e", "#ea5a44", "#22b2ad", "#1f78c8", "#7332a3", "#f5877d", "#1d5a69", "#8c8c8c", "#c8e5ee", "#56b6ea", "#6aa832", "#f2b02e", "#1a7ac8", "#7b39a5"]}, "legend": null}}},
      {"data": {"name": "bL"}, "transform": [{"filter": "datum.c === 'zvs'"}], "mark": {"type": "line", "strokeWidth": 2, "strokeDash": [9, 5]},
       "encoding": {"detail": {"field": "c"}, "color": {"field": "k", "type": "nominal", "scale": {"domain": ["max", "lred", "teal", "blue", "zvs", "ocp", "traj", "gray", "hatch", "lblue", "green", "orng", "bdd", "purp"], "range": ["#f01e1e", "#ea5a44", "#22b2ad", "#1f78c8", "#7332a3", "#f5877d", "#1d5a69", "#8c8c8c", "#c8e5ee", "#56b6ea", "#6aa832", "#f2b02e", "#1a7ac8", "#7b39a5"]}, "legend": null}}},
      {"data": {"name": "bL"}, "transform": [{"filter": "datum.c === 'oa1'"}], "mark": {"type": "line", "strokeWidth": 2, "strokeDash": [6, 3, 2, 3]},
       "encoding": {"detail": {"field": "c"}, "color": {"field": "k", "type": "nominal", "scale": {"domain": ["max", "lred", "teal", "blue", "zvs", "ocp", "traj", "gray", "hatch", "lblue", "green", "orng", "bdd", "purp"], "range": ["#f01e1e", "#ea5a44", "#22b2ad", "#1f78c8", "#7332a3", "#f5877d", "#1d5a69", "#8c8c8c", "#c8e5ee", "#56b6ea", "#6aa832", "#f2b02e", "#1a7ac8", "#7b39a5"]}, "legend": null}}},
      {"data": {"name": "bL"}, "transform": [{"filter": "datum.c === 'bdd'"}], "mark": {"type": "line", "strokeWidth": 2, "strokeDash": [7, 3, 2, 3]},
       "encoding": {"detail": {"field": "c"}, "color": {"field": "k", "type": "nominal", "scale": {"domain": ["max", "lred", "teal", "blue", "zvs", "ocp", "traj", "gray", "hatch", "lblue", "green", "orng", "bdd", "purp"], "range": ["#f01e1e", "#ea5a44", "#22b2ad", "#1f78c8", "#7332a3", "#f5877d", "#1d5a69", "#8c8c8c", "#c8e5ee", "#56b6ea", "#6aa832", "#f2b02e", "#1a7ac8", "#7b39a5"]}, "legend": null}}},
      {"data": {"name": "bR"}, "transform": [{"filter": "indexof(datum.c, 'hz') === 0"}], "mark": {"type": "rule", "strokeWidth": 2, "strokeDash": [13, 4, 6, 4]},
       "encoding": {"x2": {"field": "f2"}, "y2": {"field": "p2"}, "color": {"field": "k", "type": "nominal", "scale": {"domain": ["max", "lred", "teal", "blue", "zvs", "ocp", "traj", "gray", "hatch", "lblue", "green", "orng", "bdd", "purp"], "range": ["#f01e1e", "#ea5a44", "#22b2ad", "#1f78c8", "#7332a3", "#f5877d", "#1d5a69", "#8c8c8c", "#c8e5ee", "#56b6ea", "#6aa832", "#f2b02e", "#1a7ac8", "#7b39a5"]}, "legend": null}}},
      {"data": {"name": "bR"}, "transform": [{"filter": "indexof(datum.c, 'hz') !== 0 && datum.c !== 'ar_mu'"}], "mark": {"type": "rule", "strokeWidth": 2},
       "encoding": {"x2": {"field": "f2"}, "y2": {"field": "p2"}, "color": {"field": "k", "type": "nominal", "scale": {"domain": ["max", "lred", "teal", "blue", "zvs", "ocp", "traj", "gray", "hatch", "lblue", "green", "orng", "bdd", "purp"], "range": ["#f01e1e", "#ea5a44", "#22b2ad", "#1f78c8", "#7332a3", "#f5877d", "#1d5a69", "#8c8c8c", "#c8e5ee", "#56b6ea", "#6aa832", "#f2b02e", "#1a7ac8", "#7b39a5"]}, "legend": null}}},
      {"data": {"name": "bR"}, "transform": [{"filter": "datum.c === 'ar_mu'"}], "mark": {"type": "rule", "strokeWidth": 2, "strokeDash": [2, 2]},
       "encoding": {"x2": {"field": "f2"}, "y2": {"field": "p2"}, "color": {"field": "k", "type": "nominal", "scale": {"domain": ["max", "lred", "teal", "blue", "zvs", "ocp", "traj", "gray", "hatch", "lblue", "green", "orng", "bdd", "purp"], "range": ["#f01e1e", "#ea5a44", "#22b2ad", "#1f78c8", "#7332a3", "#f5877d", "#1d5a69", "#8c8c8c", "#c8e5ee", "#56b6ea", "#6aa832", "#f2b02e", "#1a7ac8", "#7b39a5"]}, "legend": null}}},
      {"data": {"name": "bH"}, "mark": {"type": "point", "shape": "triangle-up", "filled": true, "size": 75, "opacity": 1},
       "encoding": {"angle": {"field": "c", "type": "nominal", "scale": {"domain": ["ar_min", "ar_ocp", "ar_max", "ar_mu", "ar_zvs", "CP", "CC", "CV"], "range": [0, 180, 313, 0, 69, 270, 277, 176]}, "legend": null},
         "color": {"field": "k", "type": "nominal", "scale": {"domain": ["max", "lred", "teal", "blue", "zvs", "ocp", "traj", "gray", "hatch", "lblue", "green", "orng", "bdd", "purp"], "range": ["#f01e1e", "#ea5a44", "#22b2ad", "#1f78c8", "#7332a3", "#f5877d", "#1d5a69", "#8c8c8c", "#c8e5ee", "#56b6ea", "#6aa832", "#f2b02e", "#1a7ac8", "#7b39a5"]}, "legend": null}}},
      {"data": {"name": "bT"}, "transform": [{"filter": "datum.st === 'it'"}], "mark": {"type": "text", "align": "left", "baseline": "alphabetic", "font": "Liberation Serif", "fontSize": 22, "fontStyle": "italic"},
       "encoding": {"text": {"field": "t"}, "color": {"field": "k", "type": "nominal", "scale": {"domain": ["max", "lred", "teal", "blue", "zvs", "ocp", "traj", "gray", "hatch", "lblue", "green", "orng", "bdd", "purp"], "range": ["#f01e1e", "#ea5a44", "#22b2ad", "#1f78c8", "#7332a3", "#f5877d", "#1d5a69", "#8c8c8c", "#c8e5ee", "#56b6ea", "#6aa832", "#f2b02e", "#1a7ac8", "#7b39a5"]}, "legend": null}}},
      {"data": {"name": "bT"}, "transform": [{"filter": "datum.t === 'p'"}], "mark": {"type": "text", "align": "left", "baseline": "alphabetic", "font": "Liberation Serif", "fontSize": 12, "dx": 9, "dy": -10, "text": "*"},
       "encoding": {"color": {"field": "k", "type": "nominal", "scale": {"domain": ["max", "lred", "teal", "blue", "zvs", "ocp", "traj", "gray", "hatch", "lblue", "green", "orng", "bdd", "purp"], "range": ["#f01e1e", "#ea5a44", "#22b2ad", "#1f78c8", "#7332a3", "#f5877d", "#1d5a69", "#8c8c8c", "#c8e5ee", "#56b6ea", "#6aa832", "#f2b02e", "#1a7ac8", "#7b39a5"]}, "legend": null}}},
      {"data": {"name": "bT"}, "transform": [{"filter": "isValid(datum.sub)"}], "mark": {"type": "text", "align": "left", "baseline": "alphabetic", "font": "Liberation Serif", "fontSize": 14, "dx": 13, "dy": 2},
       "encoding": {"text": {"field": "sub"}, "color": {"field": "k", "type": "nominal", "scale": {"domain": ["max", "lred", "teal", "blue", "zvs", "ocp", "traj", "gray", "hatch", "lblue", "green", "orng", "bdd", "purp"], "range": ["#f01e1e", "#ea5a44", "#22b2ad", "#1f78c8", "#7332a3", "#f5877d", "#1d5a69", "#8c8c8c", "#c8e5ee", "#56b6ea", "#6aa832", "#f2b02e", "#1a7ac8", "#7b39a5"]}, "legend": null}}},
      {"data": {"name": "bT"}, "transform": [{"filter": "datum.st === 'pl'"}], "mark": {"type": "text", "align": "left", "baseline": "alphabetic", "font": "Liberation Serif", "fontSize": 20},
       "encoding": {"text": {"field": "t"}, "color": {"field": "k", "type": "nominal", "scale": {"domain": ["max", "lred", "teal", "blue", "zvs", "ocp", "traj", "gray", "hatch", "lblue", "green", "orng", "bdd", "purp"], "range": ["#f01e1e", "#ea5a44", "#22b2ad", "#1f78c8", "#7332a3", "#f5877d", "#1d5a69", "#8c8c8c", "#c8e5ee", "#56b6ea", "#6aa832", "#f2b02e", "#1a7ac8", "#7b39a5"]}, "legend": null}}}
    ]
  }
]
}
